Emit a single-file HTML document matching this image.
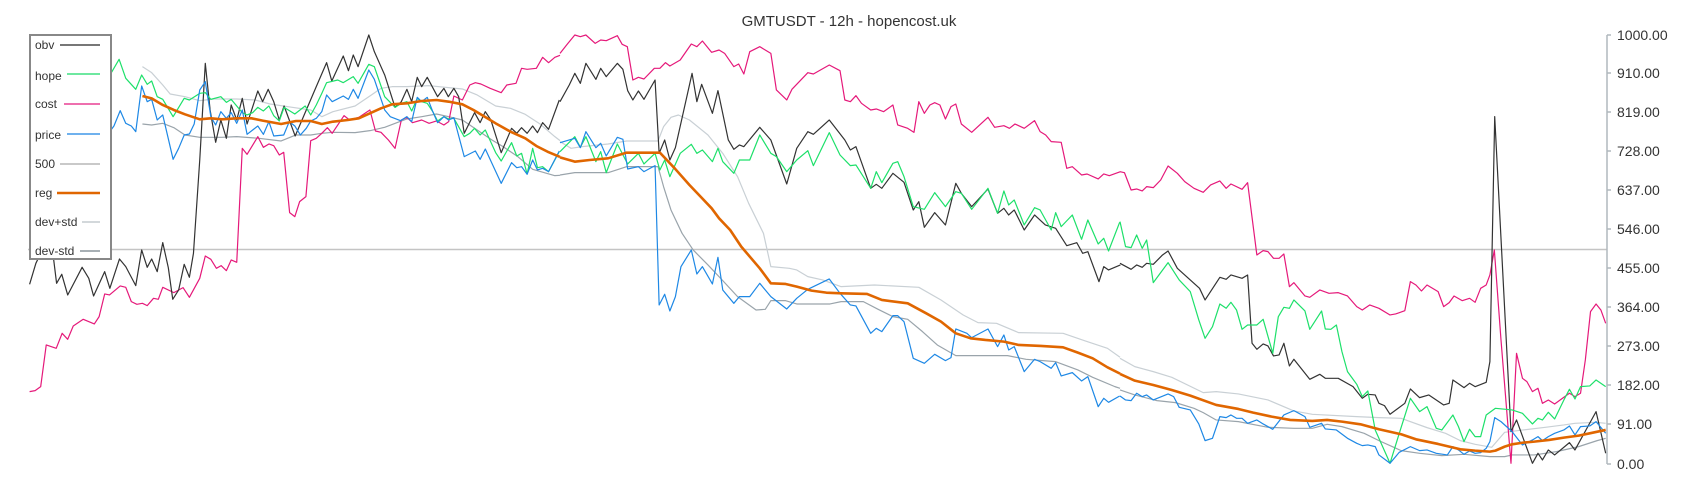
<!DOCTYPE html>
<html><head><meta charset="utf-8"><style>
html,body{margin:0;padding:0;background:#fff;}
svg{display:block;font-family:"Liberation Sans",sans-serif;}
.s{fill:none;vector-effect:non-scaling-stroke;stroke-linejoin:round;}
</style></head><body>
<svg width="1700" height="500" viewBox="0 0 1700 500">
<text x="849" y="26" font-size="15" text-anchor="middle" fill="#333">GMTUSDT - 12h - hopencost.uk</text>
<line x1="28" y1="249.5" x2="1607" y2="249.5" stroke="#c4c4c4" stroke-width="1.5"/>
<g transform="translate(0,20) scale(0.3699,0.3333)">
<polyline class="s" stroke="#c9d0d5" stroke-width="1.2" points="385,140 410,158 440,195 460,222 500,230 540,242 580,237 640,237 690,240 730,252 790,262 840,270 870,290 900,275 960,258 1000,228 1030,205 1060,200 1100,200 1160,197 1250,207 1290,225 1340,258 1380,265 1420,283 1460,312 1500,350 1514,362"/>
<polyline class="s" stroke="#9aa4ab" stroke-width="1.2" points="385,312 410,315 440,310 470,323 500,345 540,352 600,352 640,350 700,355 760,363 800,345 840,345 870,340 900,337 960,338 1000,332 1040,322 1080,305 1100,297 1140,290 1180,282 1213,290 1250,300 1290,330 1330,360 1360,380 1400,410 1440,448 1500,467 1514,466"/>
<polyline class="s" stroke="#e5197a" stroke-width="1.2" points="80,1115 95,1112 110,1100 125,975 152,985 168,940 183,958 198,918 225,898 255,912 268,890 283,822 296,825 325,798 340,802 355,845 370,853 385,850 398,857 415,835 428,838 440,802 470,818 495,803 512,832 540,775 555,708 570,718 585,745 598,737 612,752 625,720 640,727 655,385 668,403 697,350 712,382 727,372 740,377 755,405 767,397 783,578 797,590 810,545 827,530 840,362 855,355 870,340 885,323 898,340 930,287 945,300 970,292 1000,270 1015,333 1030,337 1050,360 1068,385 1085,300 1100,292 1115,308 1140,300 1160,310 1180,303 1200,315 1213,305 1227,228 1250,240 1270,195 1285,188 1300,192 1325,205 1355,218 1370,195 1395,190 1410,145 1425,148 1450,145 1467,112 1483,128 1500,112 1514,106"/>
<polyline class="s" stroke="#333" stroke-width="1.2" points="80,793 97,730 110,700 145,718 153,790 167,763 183,825 222,742 240,775 253,828 283,755 297,805 323,717 340,740 367,797 383,690 398,742 410,717 425,755 440,668 455,743 467,838 483,810 498,733 512,772 523,700 540,420 555,130 568,270 583,367 597,300 612,355 625,255 640,300 655,235 668,312 697,213 710,245 725,208 740,245 755,300 768,258 782,300 798,348 855,200 883,128 897,183 928,108 942,152 955,105 968,140 997,45 1012,95 1040,165 1068,262 1085,245 1100,208 1113,245 1128,172 1140,200 1155,172 1183,230 1200,205 1212,230 1227,205 1240,230 1255,340 1283,278 1298,308 1312,275 1327,300 1355,398 1383,325 1397,340 1410,323 1425,340 1440,318 1453,338 1467,308 1483,328 1512,240"/>
<polyline class="s" stroke="#1de06a" stroke-width="1.2" points="270,170 300,160 322,118 340,175 367,208 383,165 398,193 410,183 425,230 440,238 468,290 498,235 512,240 540,220 555,218 570,238 597,230 612,247 625,238 655,278 668,285 683,278 697,262 712,273 727,258 740,287 755,303 768,262 797,282 825,258 840,285 855,255 870,220 883,188 913,180 928,188 955,170 968,190 997,133 1012,140 1040,230 1068,262 1085,250 1100,245 1113,273 1128,235 1140,245 1155,250 1170,275 1183,303 1200,290 1213,297 1227,295 1255,350 1270,340 1283,325 1298,345 1312,330 1340,398 1355,423 1383,368 1397,408 1410,400 1425,462 1440,385 1453,443 1467,440 1483,455 1512,395"/>
<polyline class="s" stroke="#1e88e5" stroke-width="1.2" points="270,340 300,330 308,318 325,272 340,310 355,318 367,335 383,198 398,245 410,238 425,300 440,285 468,418 483,385 498,345 512,342 525,312 540,210 555,185 570,290 583,315 597,275 612,295 625,278 640,310 655,270 668,343 697,318 712,343 727,305 740,348 767,345 782,305 797,318 812,345 828,325 840,303 855,295 870,275 883,225 898,245 928,228 942,238 955,208 968,235 997,150 1012,178 1040,270 1055,290 1083,302 1100,290 1113,305 1128,232 1140,245 1155,232 1170,275 1183,308 1200,290 1213,300 1227,293 1255,410 1285,393 1298,418 1312,387 1355,490 1383,428 1397,443 1410,440 1425,463 1440,420 1453,450 1467,445 1483,455 1512,393"/>
<polyline class="s" stroke="#e06600" stroke-width="2.6" points="385,228 410,235 440,255 470,270 500,283 540,298 570,295 600,298 640,295 680,295 710,302 760,312 800,303 840,303 870,312 900,305 940,300 970,295 1000,280 1030,265 1060,253 1100,250 1140,243 1180,240 1213,245 1250,253 1280,270 1310,290 1340,310 1380,335 1420,355 1450,378 1480,395 1514,411"/>
</g>
<g transform="translate(560,20) scale(0.3699,0.3333)">
<polyline class="s" stroke="#c9d0d5" stroke-width="1.2" points="0,365 30,385 60,380 130,372 180,363 265,363 280,320 300,292 320,285 350,300 400,345 440,400 480,470 510,550 550,640 570,740 620,745 640,750 670,770 710,780 760,800 850,795 970,802 1030,840 1090,885 1130,908 1180,910 1240,938 1360,940 1420,963 1480,985 1514,1012"/>
<polyline class="s" stroke="#9aa4ab" stroke-width="1.2" points="0,465 40,458 130,458 180,440 265,440 280,500 300,570 330,640 360,690 400,735 440,782 480,830 530,870 555,868 570,842 610,842 640,852 730,852 760,845 820,845 860,868 900,890 940,898 980,935 1020,975 1070,1007 1210,1007 1260,1018 1340,1025 1400,1050 1440,1072 1500,1100 1514,1105"/>
<polyline class="s" stroke="#e5197a" stroke-width="1.2" points="0,100 20,72 40,45 55,50 70,45 95,70 110,60 125,62 155,47 168,73 182,80 197,180 212,172 227,177 255,145 270,145 285,128 297,138 325,120 355,72 370,80 385,63 410,97 430,90 445,100 470,140 483,132 497,162 513,95 540,80 570,100 585,210 613,240 627,208 670,158 685,162 728,135 757,152 770,240 785,245 800,227 815,250 840,270 855,267 875,275 900,255 913,315 940,325 957,337 970,245 985,280 1000,255 1013,248 1027,255 1042,297 1057,260 1070,252 1085,312 1113,337 1157,292 1175,322 1200,317 1215,325 1230,312 1255,325 1283,302 1298,335 1313,345 1328,365 1355,367 1370,445 1385,440 1410,465 1425,462 1455,477 1470,462 1485,467 1515,455"/>
<polyline class="s" stroke="#333" stroke-width="1.2" points="0,245 25,195 40,160 55,190 70,130 97,178 110,145 125,170 155,130 170,148 183,212 197,240 212,213 227,238 257,180 268,400 283,360 297,420 312,383 357,160 370,245 383,193 412,280 427,212 455,360 470,388 485,375 497,380 540,322 570,360 613,492 640,385 670,335 685,343 728,300 770,360 785,390 800,380 840,505 855,493 870,505 900,460 930,487 955,570 970,545 985,622 1013,578 1042,615 1070,490 1085,520 1113,560 1157,507 1183,580 1200,565 1213,585 1228,570 1255,630 1283,585 1312,615 1340,625 1370,677 1397,668 1413,700 1427,695 1457,785 1470,740 1483,750 1515,735"/>
<polyline class="s" stroke="#1de06a" stroke-width="1.2" points="0,395 40,350 55,382 70,350 97,425 110,395 125,458 155,372 183,432 212,400 227,432 257,400 270,450 283,420 297,470 325,400 355,373 370,400 385,390 412,425 427,385 440,425 470,460 485,420 513,420 540,345 570,400 585,410 613,455 640,420 670,392 685,437 728,338 757,405 785,437 800,435 840,505 855,455 870,488 900,430 913,425 930,470 955,560 985,568 1013,518 1042,560 1070,515 1085,520 1113,568 1157,505 1183,580 1200,513 1213,555 1228,540 1255,615 1283,563 1298,570 1328,630 1340,578 1355,620 1385,585 1410,658 1427,600 1455,672 1470,655 1483,693 1513,607"/>
<polyline class="s" stroke="#1e88e5" stroke-width="1.2" points="0,368 40,355 55,383 70,335 97,383 110,370 125,408 155,352 170,358 183,447 212,440 227,455 257,437 268,855 283,823 297,873 312,830 327,740 355,690 370,762 385,740 412,792 427,712 440,810 470,850 485,830 513,830 540,790 570,830 613,867 640,835 670,808 728,777 757,820 785,855 800,858 840,940 855,925 870,935 900,887 913,887 930,905 955,1015 985,1030 1013,1003 1042,1022 1057,1013 1070,927 1100,940 1113,953 1157,927 1183,980 1200,945 1213,990 1228,980 1255,1055 1283,1018 1298,1025 1328,1045 1340,1028 1355,1068 1385,1058 1410,1083 1427,1070 1455,1160 1470,1135 1483,1147 1513,1128"/>
<polyline class="s" stroke="#e06600" stroke-width="2.6" points="0,412 40,425 80,420 130,415 180,398 270,398 310,445 350,495 380,530 410,565 430,595 460,630 490,680 540,745 570,790 610,792 640,800 680,812 720,818 760,820 830,822 870,840 940,850 990,880 1030,905 1070,940 1110,955 1150,960 1200,965 1240,975 1300,978 1360,982 1400,998 1440,1015 1480,1042 1514,1061"/>
</g>
<g transform="translate(1120,20) scale(0.3699,0.3333)">
<polyline class="s" stroke="#c9d0d5" stroke-width="1.2" points="0,1015 40,1040 90,1055 140,1072 225,1118 260,1115 320,1122 400,1140 470,1173 520,1183 640,1190 700,1193 760,1195 830,1223 880,1240 920,1262 960,1273 1005,1282 1040,1237 1090,1230 1150,1222 1200,1215 1230,1210 1287,1207 1313,1210"/>
<polyline class="s" stroke="#9aa4ab" stroke-width="1.2" points="0,1110 40,1125 100,1142 150,1148 200,1165 225,1178 260,1200 320,1205 400,1222 470,1225 520,1225 560,1213 600,1220 660,1240 700,1262 760,1292 810,1300 870,1307 930,1303 1000,1310 1040,1310 1060,1305 1120,1305 1180,1295 1240,1280 1290,1262 1313,1255"/>
<polyline class="s" stroke="#e5197a" stroke-width="1.2" points="0,455 12,458 30,510 45,507 60,513 72,500 90,503 110,480 130,438 155,460 175,485 200,505 225,517 245,495 270,483 287,505 300,492 330,508 345,488 370,705 387,692 400,695 415,715 430,715 443,702 458,800 470,788 500,828 513,832 540,810 565,820 590,818 615,828 640,860 655,870 675,855 700,865 730,885 745,882 770,872 785,785 800,795 815,813 830,795 860,815 875,860 890,848 903,828 925,842 945,835 960,847 975,805 990,795 1000,765 1012,690 1030,960 1057,1330 1072,1000 1088,1075 1100,1085 1115,1115 1130,1105 1142,1150 1158,1140 1175,1152 1200,1132 1215,1120 1230,1130 1245,1120 1258,1020 1272,875 1287,852 1300,870 1313,910"/>
<polyline class="s" stroke="#333" stroke-width="1.2" points="0,730 30,748 45,735 60,742 72,730 90,733 115,705 130,693 155,745 200,790 215,805 230,840 270,772 287,778 300,765 330,775 345,765 357,970 370,988 387,972 400,978 415,1008 430,1005 443,970 458,1038 470,1018 513,1078 540,1063 555,1075 590,1075 630,1100 655,1135 670,1123 690,1125 700,1150 715,1157 730,1183 770,1150 785,1107 810,1133 835,1125 875,1155 890,1150 900,1080 930,1103 945,1090 960,1100 990,1087 1000,1025 1013,290 1057,1235 1072,1200 1100,1285 1115,1330 1130,1300 1142,1320 1158,1290 1175,1305 1215,1268 1230,1290 1287,1175 1313,1300"/>
<polyline class="s" stroke="#1de06a" stroke-width="1.2" points="0,605 15,680 30,683 45,645 60,685 72,660 90,788 130,728 160,780 190,815 213,900 230,955 250,920 270,852 287,865 300,847 315,870 330,928 345,915 370,915 387,898 413,1000 428,890 443,862 458,865 470,840 500,873 513,928 545,873 555,927 570,928 585,915 600,995 615,1055 640,1093 655,1130 670,1113 690,1230 730,1330 755,1240 785,1135 810,1175 830,1160 855,1225 870,1230 900,1185 915,1220 930,1265 945,1228 960,1250 975,1250 990,1185 1015,1165 1060,1170 1088,1180 1115,1212 1130,1195 1142,1200 1158,1177 1175,1197 1200,1140 1215,1108 1230,1137 1245,1100 1270,1098 1287,1080 1313,1100"/>
<polyline class="s" stroke="#1e88e5" stroke-width="1.2" points="0,1128 15,1140 30,1142 45,1120 60,1130 72,1125 90,1140 130,1122 145,1130 160,1162 190,1170 213,1212 230,1262 250,1255 270,1190 287,1193 300,1185 315,1195 330,1195 345,1210 370,1200 387,1212 413,1228 443,1185 470,1172 500,1190 513,1222 545,1210 555,1227 585,1230 615,1255 640,1270 655,1277 670,1275 690,1280 700,1305 730,1330 755,1297 785,1280 810,1292 830,1290 855,1300 885,1305 900,1280 915,1290 930,1303 945,1293 960,1300 975,1298 990,1285 1000,1265 1013,1193 1030,1205 1060,1235 1088,1275 1115,1260 1130,1250 1142,1262 1158,1250 1175,1240 1200,1230 1215,1218 1230,1245 1245,1220 1270,1218 1287,1205 1313,1240"/>
<polyline class="s" stroke="#e06600" stroke-width="2.6" points="0,1062 40,1082 90,1095 140,1110 190,1127 260,1155 320,1167 360,1178 410,1190 460,1200 520,1203 560,1200 600,1205 650,1213 700,1228 760,1243 800,1258 860,1272 920,1288 960,1292 1000,1295 1015,1292 1040,1280 1060,1273 1090,1268 1120,1265 1160,1260 1200,1253 1240,1247 1270,1240 1313,1230"/>
</g>
<g stroke="#b0b8bd" stroke-width="1.5">
<line x1="1607" y1="35" x2="1607" y2="464"/>
<line x1="1607" y1="35" x2="1611" y2="35"/><line x1="1607" y1="73" x2="1611" y2="73"/><line x1="1607" y1="112" x2="1611" y2="112"/><line x1="1607" y1="151" x2="1611" y2="151"/><line x1="1607" y1="190" x2="1611" y2="190"/><line x1="1607" y1="229" x2="1611" y2="229"/><line x1="1607" y1="268" x2="1611" y2="268"/><line x1="1607" y1="307" x2="1611" y2="307"/><line x1="1607" y1="346" x2="1611" y2="346"/><line x1="1607" y1="385" x2="1611" y2="385"/><line x1="1607" y1="464" x2="1611" y2="464"/><line x1="1607" y1="424" x2="1611" y2="424"/>
</g>
<g font-size="14" fill="#333">
<text x="1617" y="40">1000.00</text><text x="1617" y="78">910.00</text><text x="1617" y="117">819.00</text><text x="1617" y="156">728.00</text><text x="1617" y="195">637.00</text><text x="1617" y="234">546.00</text><text x="1617" y="273">455.00</text><text x="1617" y="312">364.00</text><text x="1617" y="351">273.00</text><text x="1617" y="390">182.00</text><text x="1617" y="429">91.00</text><text x="1617" y="469">0.00</text>
</g>
<rect x="30" y="35" width="81" height="224" fill="#fff" stroke="#888" stroke-width="2"/>
<g font-size="12" fill="#333">
<text x="35" y="49">obv</text><text x="35" y="80">hope</text><text x="35" y="108">cost</text><text x="35" y="139">price</text><text x="35" y="168">500</text><text x="35" y="197">reg</text><text x="35" y="226">dev+std</text><text x="35" y="255">dev-std</text>
</g>
<line x1="60" y1="45" x2="100" y2="45" stroke="#777" stroke-width="2"/>
<line x1="67" y1="74" x2="100" y2="74" stroke="#6ee8a0" stroke-width="2"/>
<line x1="64" y1="104" x2="100" y2="104" stroke="#ee6fae" stroke-width="2"/>
<line x1="67" y1="134" x2="100" y2="134" stroke="#6fb1ee" stroke-width="2"/>
<line x1="60" y1="164" x2="100" y2="164" stroke="#c9c9c9" stroke-width="2"/>
<line x1="57" y1="193" x2="100" y2="193" stroke="#e06600" stroke-width="2.5"/>
<line x1="82" y1="222" x2="100" y2="222" stroke="#d3d8db" stroke-width="2"/>
<line x1="80" y1="251" x2="100" y2="251" stroke="#a7afb4" stroke-width="2"/>
</svg>
</body></html>
